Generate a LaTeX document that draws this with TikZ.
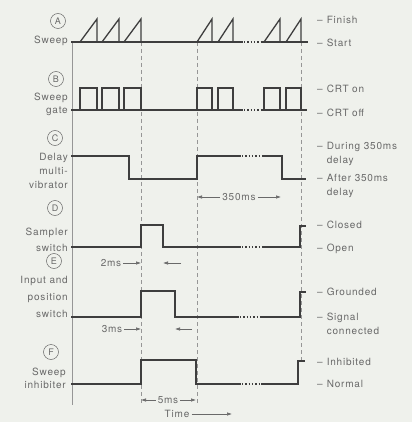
\documentclass[tikz,border=0pt]{standalone}
\usepackage{fontspec}
\setmainfont{TeX Gyre Heros}[LetterSpace=8]
\usetikzlibrary{arrows.meta}
\definecolor{paper}{RGB}{239,241,236}
\definecolor{ink}{RGB}{62,62,62}
\definecolor{txt}{RGB}{105,105,105}
\definecolor{guide}{RGB}{150,150,150}

\begin{document}
\begin{tikzpicture}[x=1pt, y=-1pt,
    wave/.style={draw=ink, line width=1.3pt, line cap=rect},
    gap/.style={draw=ink, line width=1.3pt, dash pattern=on 1.3pt off 2pt},
    guideline/.style={draw=guide, line width=0.5pt, dash pattern=on 4pt off 3pt},
    axisline/.style={draw=guide, line width=0.6pt},
    llbl/.style={font=\fontsize{10}{#1}\selectfont, text=txt, anchor=east, align=right, inner sep=0pt},
    rlbl/.style={font=\fontsize{10}{13.5}\selectfont, text=txt, anchor=west, align=left, inner sep=0pt},
    tag/.style={circle, draw=txt, line width=0.5pt, text=txt, font=\fontsize{9}{9}\selectfont, minimum size=15pt, inner sep=0pt},
    dimlbl/.style={font=\fontsize{10}{10}\selectfont, text=txt, inner sep=2pt},
    dimarr/.style={draw=txt, line width=0.6pt, -{Latex[length=5pt,width=3.5pt]}}
  ]
  \fill[paper] (0,0) rectangle (412,422);
  \useasboundingbox (0,0) rectangle (412,422);
  \def\tk{--\hspace{4pt}}

  % guides
  \draw[axisline] (72,42) -- (72,405);
  \draw[guideline] (141,42) -- (141,405);
  \draw[guideline] (197,42) -- (197,405);
  \draw[guideline] (301,42) -- (301,361);

  % A: sweep and B: sweep gate
  \draw[wave] (72,42) -- (242,42) (263,42) -- (307,42);
  \draw[gap] (244,42) -- (262,42);
  \draw[wave] (72,110) -- (242,110) (263,110) -- (306,110);
  \draw[gap] (244,110) -- (262,110);
  \foreach \a/\b in {80/97, 102/119, 124/141, 197/212, 218/233, 264/280, 286/301} {
    \draw[wave] (\a,42) -- (\b,19) -- (\b,42);
    \draw[wave] (\a,110) -- (\a,88) -- (\b,88) -- (\b,110);
  }

  % C: delay multivibrator
  \draw[wave] (72,156) -- (129,156) -- (129,179) -- (197,179) -- (197,156) -- (240,156);
  \draw[gap] (242,156) -- (262,156);
  \draw[wave] (263,156) -- (282,156) -- (282,179) -- (305,179);

  % D: sampler switch
  \draw[wave] (72,247) -- (141,247) -- (141,225) -- (163,225) -- (163,247) -- (240,247);
  \draw[gap] (242,247) -- (262,247);
  \draw[wave] (263,247) -- (300,247) -- (300,226) -- (305,226);

  % E: input and position switch
  \draw[wave] (72,317) -- (141,317) -- (141,291) -- (175,291) -- (175,317) -- (238,317);
  \draw[gap] (240,317) -- (261,317);
  \draw[wave] (262,317) -- (300,317) -- (300,292) -- (305,292);

  % F: sweep inhibiter
  \draw[wave] (72,384) -- (141,384) -- (141,360) -- (196,360) -- (196,384) -- (240,384);
  \draw[gap] (242,384) -- (261,384);
  \draw[wave] (262,384) -- (298,384) -- (298,361) -- (304,361);

  % left labels
  \foreach \t/\x/\y in {A/58/21, B/56/79, C/55/138, D/55/208, E/54/261, F/51/352}
    \node[tag] (tag\t) at (\x,\y) {\t};
  \node[llbl=14] (lblA) at (68,41) {Sweep};
  \node[llbl=13] (lblB) at (68,104) {Sweep\\gate};
  \node[llbl=14] (lblC) at (68,171) {Delay\\multi-\\vibrator};
  \node[llbl=16] (lblD) at (68,240) {Sampler\\switch};
  \node[llbl=17] (lblE) at (68,297) {Input and\\position\\switch};
  \node[llbl=13] (lblF) at (66,378) {Sweep\\inhibiter};

  % right labels
  \foreach \lbl/\y in {Finish/20, Start/43, CRT on/89, CRT off/113, Closed/225,
      Open/249, Grounded/292, Inhibited/362, Normal/384}
    \node[rlbl] (lvl\y) at (317,\y) {\tk\lbl};
  \node[rlbl] (during) at (317,154) {\tk During 350ms\\\hphantom{\tk}delay};
  \node[rlbl] (after) at (317,186) {\tk After 350ms\\\hphantom{\tk}delay};
  \node[rlbl] (signal) at (317,324) {\tk Signal\\\hphantom{\tk}connected};

  % timing marks
  \node[dimlbl] (t350) at (239,197) {350ms};
  \coordinate (d350l) at (197,197);
  \coordinate (d350r) at (281,197);
  \draw[dimarr] (t350) -- (d350l);
  \draw[dimarr] (t350) -- (d350r);

  \node[dimlbl] (t2) at (111,263) {2ms};
  \coordinate (d2l) at (141,263);
  \coordinate (d2s) at (181,263);
  \coordinate (d2r) at (163,263);
  \draw[dimarr] (t2) -- (d2l);
  \draw[dimarr] (d2s) -- (d2r);

  \node[dimlbl] (t3) at (112,329) {3ms};
  \coordinate (d3l) at (141,329);
  \coordinate (d3s) at (192,329);
  \coordinate (d3r) at (175,329);
  \draw[dimarr] (t3) -- (d3l);
  \draw[dimarr] (d3s) -- (d3r);

  \node[dimlbl] (t5) at (168,400) {5ms};
  \coordinate (d5l) at (141,400);
  \coordinate (d5r) at (196,400);
  \draw[dimarr] (t5) -- (d5l);
  \draw[dimarr] (t5) -- (d5r);

  \node[dimlbl] (ttime) at (177,414) {Time};
  \coordinate (tend) at (232,414);
  \draw[dimarr] (ttime) -- (tend);
\end{tikzpicture}
\end{document}
